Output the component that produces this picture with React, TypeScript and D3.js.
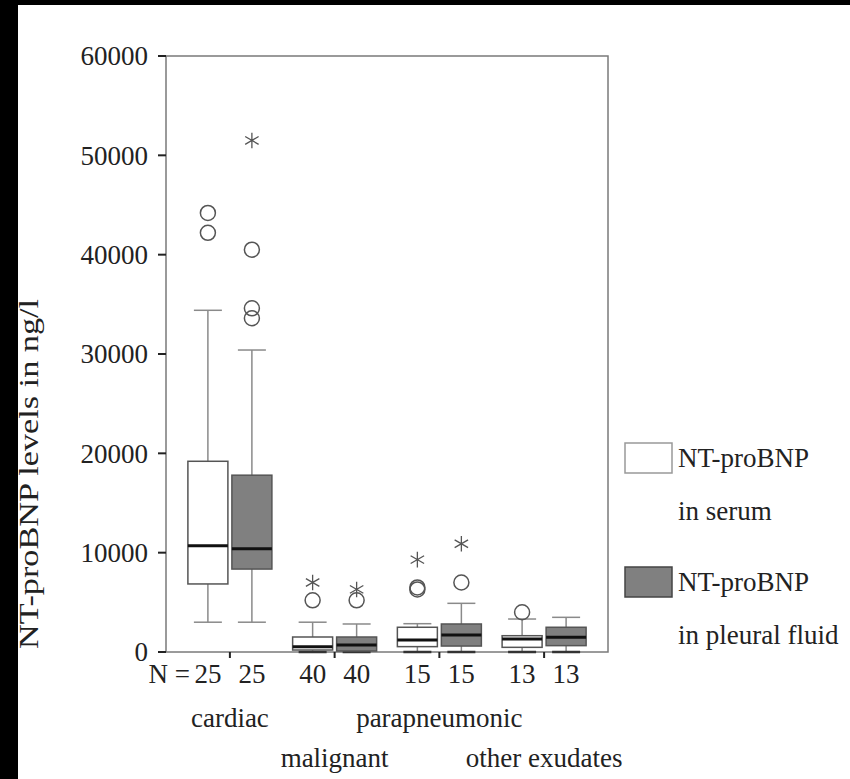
import React from "react";
import * as d3 from "d3";

const groups = ["cardiac", "malignant", "parapneumonic", "other exudates"];
const nCounts = [25, 40, 15, 13];
const labelRow = [0, 1, 0, 1];

const serumLow = [3000, 0, 0, 0];
const serumQ1 = [6850, 200, 540, 470];
const serumMedian = [10700, 530, 1210, 1310];
const serumQ3 = [19200, 1510, 2490, 1640];
const serumHigh = [34400, 3000, 2850, 3320];
const serumOutliers = [[44200, 42200], [5200], [6300, 6500], [4000]];
const serumExtremes = [[], [7000], [9300], []];

const pleuralLow = [3000, 0, 0, 0];
const pleuralQ1 = [8350, 100, 600, 640];
const pleuralMedian = [10400, 700, 1710, 1480];
const pleuralQ3 = [17800, 1510, 2820, 2490];
const pleuralHigh = [30400, 2820, 4900, 3490];
const pleuralOutliers = [[40500, 34600, 33600], [5200], [7000], []];
const pleuralExtremes = [[51500], [6300], [10900], []];

const yTicks = [0, 10000, 20000, 30000, 40000, 50000, 60000];
const legendLabels = [["NT-proBNP", "in serum"], ["NT-proBNP", "in pleural fluid"]];
const yTitle = "NT-proBNP levels in ng/l";

const series = [
  { key: "serum", fill: "#ffffff", low: serumLow, q1: serumQ1, med: serumMedian, q3: serumQ3, high: serumHigh, out: serumOutliers, ext: serumExtremes, offset: -22 },
  { key: "pleural", fill: "#808080", low: pleuralLow, q1: pleuralQ1, med: pleuralMedian, q3: pleuralQ3, high: pleuralHigh, out: pleuralOutliers, ext: pleuralExtremes, offset: 22 },
];

const FONT = "'Liberation Serif', 'Times New Roman', serif";

export default function App() {
  const W = 850, H = 779;
  const left = 166, right = 608, top = 56, bottom = 652;
  const x = d3.scalePoint<string>().domain(groups).range([left, right]).padding(0.61);
  const y = d3.scaleLinear().domain([0, 60000]).range([bottom, top]);
  const boxW = 40, capW = 28;
  const ast = d3.symbol().type(d3.symbolAsterisk).size(170)();

  return (
    <svg width={W} height={H} style={{ position: "absolute", left: 0, top: 0, background: "#fff" }} fontFamily={FONT}>
      <rect x={0} y={0} width={W} height={H} fill="#fff" />
      <rect x={0} y={0} width={W} height={5} fill="#000" />
      <rect x={0} y={0} width={18} height={H} fill="#000" />

      {/* frame */}
      <rect x={left} y={top} width={right - left} height={bottom - top} fill="none" stroke="#7a7a7a" strokeWidth={1.5} />

      {/* y ticks */}
      {yTicks.map((t) => (
        <g key={t}>
          <line x1={158} x2={left} y1={y(t)} y2={y(t)} stroke="#222" strokeWidth={2} />
          <text x={148} y={y(t)} dy="0.34em" textAnchor="end" fontSize={27} fill="#222">{t}</text>
        </g>
      ))}
      <text transform={`translate(38,${(650 + 298) / 2}) rotate(-90)`} textAnchor="middle" fontSize={27} fill="#222" textLength={350} lengthAdjust="spacingAndGlyphs">{yTitle}</text>

      {/* x ticks */}
      {groups.map((g) => (
        <line key={g} x1={x(g)} x2={x(g)} y1={bottom} y2={bottom + 6} stroke="#222" strokeWidth={2} />
      ))}

      {/* boxes */}
      {series.map((s) =>
        groups.map((g, i) => {
          const cx = (x(g) as number) + s.offset;
          return (
            <g key={s.key + g}>
              <line x1={cx} x2={cx} y1={y(s.high[i])} y2={y(s.q3[i])} stroke="#8a8a8a" strokeWidth={1.5} />
              <line x1={cx} x2={cx} y1={y(s.q1[i])} y2={y(s.low[i])} stroke="#8a8a8a" strokeWidth={1.5} />
              <line x1={cx - capW / 2} x2={cx + capW / 2} y1={y(s.high[i])} y2={y(s.high[i])} stroke="#8a8a8a" strokeWidth={1.5} />
              <line x1={cx - capW / 2} x2={cx + capW / 2} y1={y(s.low[i])} y2={y(s.low[i])} stroke={s.low[i] === 0 ? "#333" : "#8a8a8a"} strokeWidth={s.low[i] === 0 ? 2.5 : 1.5} />
              <rect x={cx - boxW / 2} y={y(s.q3[i])} width={boxW} height={y(s.q1[i]) - y(s.q3[i])} fill={s.fill} stroke="#555" strokeWidth={1.5} />
              <line x1={cx - boxW / 2} x2={cx + boxW / 2} y1={y(s.med[i])} y2={y(s.med[i])} stroke="#111" strokeWidth={3} />
              {s.out[i].map((v, j) => (
                <circle key={"o" + j} cx={cx} cy={y(v)} r={7.5} fill="none" stroke="#555" strokeWidth={1.5} />
              ))}
              {s.ext[i].map((v, j) => (
                <path key={"e" + j} d={ast as string} transform={`translate(${cx},${y(v)})`} fill="none" stroke="#555" strokeWidth={1.3} />
              ))}
            </g>
          );
        })
      )}

      {/* N row */}
      <text x={190} y={683} textAnchor="end" fontSize={27} fill="#222">N =</text>
      {series.map((s) =>
        groups.map((g, i) => (
          <text key={"n" + s.key + g} x={(x(g) as number) + s.offset} y={683} textAnchor="middle" fontSize={27} fill="#222">{nCounts[i]}</text>
        ))
      )}
      {groups.map((g, i) => (
        <text key={"c" + g} x={x(g)} y={labelRow[i] === 0 ? 727 : 767} textAnchor="middle" fontSize={27} fill="#222">{g}</text>
      ))}

      {/* legend */}
      {series.map((s, k) => {
        const by = k === 0 ? 443 : 567;
        return (
          <g key={"l" + s.key}>
            <rect x={625} y={by} width={47} height={30} fill={s.fill} stroke={k === 0 ? "#999" : "#444"} strokeWidth={1.5} />
            <text x={678} y={by + 24} fontSize={27} fill="#222">{legendLabels[k][0]}</text>
            <text x={678} y={by + 77} fontSize={27} fill="#222">{legendLabels[k][1]}</text>
          </g>
        );
      })}
    </svg>
  );
}
